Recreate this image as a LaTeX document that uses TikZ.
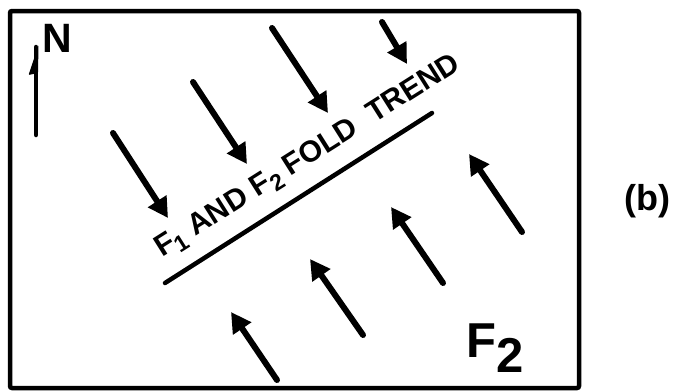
\documentclass[tikz,border=0pt]{standalone}
\usepackage{fontspec}
\setmainfont{Liberation Sans}
\usetikzlibrary{arrows.meta}
\newcommand\lowsub[2][5pt]{\raisebox{-#1}{#2}}
\begin{document}
\begin{tikzpicture}[x=1pt,y=-1pt,
  frame/.style={line width=4.5pt, rounded corners=2pt},
  vec/.style={line width=6pt, line cap=round, -{Triangle[length=20pt,width=21pt]}},
  trend/.style={line width=4.5pt, line cap=round},
  lbl/.style={inner sep=0pt}]
\useasboundingbox (0,0) rectangle (676,391);
\draw[frame] (10,11) rectangle (579,388);
% north arrow
\coordinate (nb) at (36,135);
\coordinate (nt) at (36,47);
\draw[line width=4.5pt, line cap=round] (nb) -- (nt);
\fill[rounded corners=1pt] (38.5,45) -- (28.5,75) -- (38,73) -- cycle;
\node[lbl, anchor=base west, font=\bfseries\fontsize{41}{41}\selectfont] (N) at (42,52) {N};
% F1 arrows
\coordinate (a1) at (113,133); \coordinate (a2) at (168,218);
\coordinate (b1) at (193,82);  \coordinate (b2) at (247,164);
\coordinate (c1) at (272,28);  \coordinate (c2) at (328,113);
\coordinate (d1) at (382,22);  \coordinate (d2) at (407,64);
\draw[vec] (a1) -- (a2);
\draw[vec] (b1) -- (b2);
\draw[vec] (c1) -- (c2);
\draw[vec] (d1) -- (d2);
% F2 arrows
\coordinate (e1) at (277,380); \coordinate (e2) at (231,312);
\coordinate (f1) at (363,335); \coordinate (f2) at (310,259);
\coordinate (g1) at (443,283); \coordinate (g2) at (391,207);
\coordinate (h1) at (522,232); \coordinate (h2) at (469,154);
\draw[vec] (e1) -- (e2);
\draw[vec] (f1) -- (f2);
\draw[vec] (g1) -- (g2);
\draw[vec] (h1) -- (h2);
% fold trend
\coordinate (t1) at (165,283);
\coordinate (t2) at (432,113);
\draw[trend] (t1) -- (t2);
\node[lbl, rotate=32.3, anchor=base west, font=\bfseries\fontsize{30}{30}\selectfont] (trendtxt) at (162,258)
  {F\lowsub[6pt]{\fontsize{23}{23}\selectfont 1} AND F\lowsub[6pt]{\fontsize{23}{23}\selectfont 2} FOLD\hspace{9pt} TREND};
% labels
\node[lbl, anchor=base west, font=\bfseries\fontsize{49}{49}\selectfont] (F2) at (466,357) {F\lowsub[15pt]{2}};
\node[lbl, font=\bfseries\fontsize{36}{36}\selectfont] (b) at (647,201) {(b)};
\end{tikzpicture}
\end{document}
